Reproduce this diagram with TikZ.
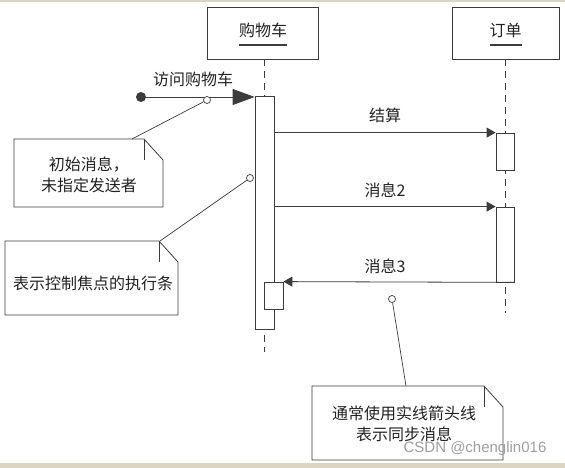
\documentclass[tikz,border=0pt]{standalone}
\usepackage{fontspec}
\setmainfont{Noto Sans CJK SC}
\newfontfamily\wmfont{Liberation Sans}
\usetikzlibrary{arrows.meta}
\definecolor{ln}{HTML}{3C3C3C}
\definecolor{txt}{HTML}{222222}
\definecolor{beige}{HTML}{DCD5C4}
\newcommand\mynote[5]{%
  \draw[notel] (#2,#3) -- (#4-19,#3) -- (#4,#3+21) -- (#4,#5) -- (#2,#5) -- cycle;
  \draw[notel] (#4-19,#3) -- (#4-19,#3+21);
  \coordinate (#1) at ({(#2+#4)/2},{(#3+#5)/2});}
\begin{document}
\begin{tikzpicture}[x=1pt,y=-1pt,
  font=\fontsize{16}{21}\selectfont,
  every node/.style={text=txt},
  head/.style={draw=ln,line width=0.8pt,minimum width=111pt,minimum height=52pt,inner sep=0pt},
  htext/.style={inner sep=0pt,outer sep=0pt},
  uline/.style={draw=ln,line width=2pt},
  life/.style={draw=ln,line width=0.8pt,dash pattern=on 7pt off 5pt},
  bar/.style={draw=ln,fill=white,line width=0.8pt,inner sep=0pt,minimum width=19pt},
  msg/.style={draw=ln,line width=0.8pt,-{Triangle[length=9pt,width=10pt]}},
  notel/.style={draw=ln,line width=0.8pt,fill=white},
  hole/.style={circle,draw=ln,fill=white,line width=0.7pt,minimum size=7pt,inner sep=0pt},
  lead/.style={draw=ln,line width=0.7pt}]
\useasboundingbox (0,0) rectangle (565,468);
\fill[white] (0,0) rectangle (565,468);
\fill[beige] (0,0) rectangle (565,2);
\fill[beige] (0,463) rectangle (565,468);

% heads
\node[head] (cart) at (263,33) {};
\node[htext] (carttxt) at (263,30) {购物车};
\coordinate (cul) at (239,45);
\coordinate (cur) at (287,45);
\draw[uline] (cul) -- (cur);
\node[head,minimum width=107pt] (order) at (505.5,33) {};
\node[htext] (ordertxt) at (505.5,30) {订单};
\coordinate (oul) at (489.5,45);
\coordinate (our) at (521.5,45);
\draw[uline] (oul) -- (our);

% lifelines
\coordinate (cartend) at (264.5,352);
\coordinate (orderend) at (505.5,313);
\draw[life] (cart.south -| cartend) -- (cartend);
\draw[life] (order.south) -- (orderend);

% activation bars
\node[bar,minimum height=233pt] (cbar) at (264.5,212.5) {};
\node[bar,minimum width=18pt,minimum height=37pt] (ob1) at (505,151.5) {};
\node[bar,minimum width=18pt,minimum height=75pt] (ob2) at (505,244.5) {};
\node[bar,minimum height=27pt] (sbar) at (273.5,295.5) {};

% initial message
\coordinate (start) at (141,97);
\fill[ln] (start) circle (5pt);
\draw[draw=ln,line width=0.8pt,-{Triangle[length=22pt,width=16pt]}] (start) -- (start -| cbar.west);
\node (lbl0) at (193,79) {访问购物车};

% messages
\draw[msg] (cbar.east |- ob1.north) -- (ob1.north west);
\node (lbl1) at (385,115) {结算};
\draw[msg] (cbar.east |- ob2.north) -- (ob2.north west);
\node (lbl2) at (385,190) {消息2};
\draw[msg] (ob2.south east) -- (sbar.north east);
\node (lbl3) at (385,266) {消息3};

% notes
\mynote{n1}{14}{139}{163}{207}
\node[align=center] (t1) at (89,175) {初始消息，\\未指定发送者};
\mynote{n2}{5}{241}{178}{315}
\node (t2) at (93,283) {表示控制焦点的执行条};
\mynote{n3}{312}{386}{503}{460}
\node[align=center] (t3) at (404,424) {通常使用实线箭头线\\表示同步消息};

% leaders
\coordinate (n1top) at (132,139);
\coordinate (n2top) at (160,241);
\coordinate (n3top) at (406,386);
\node[hole] (c1) at (207,100) {};
\node[hole] (c2) at (250,178) {};
\node[hole] (c3) at (392,299) {};
\draw[lead] (c1) -- (n1top);
\draw[lead] (c2) -- (n2top);
\draw[lead] (c3) -- (n3top);

% watermark
\node[text=gray!75,font=\wmfont\fontsize{15}{15}\selectfont] (wm) at (475,449) {CSDN @chenglin016};
\end{tikzpicture}
\end{document}
